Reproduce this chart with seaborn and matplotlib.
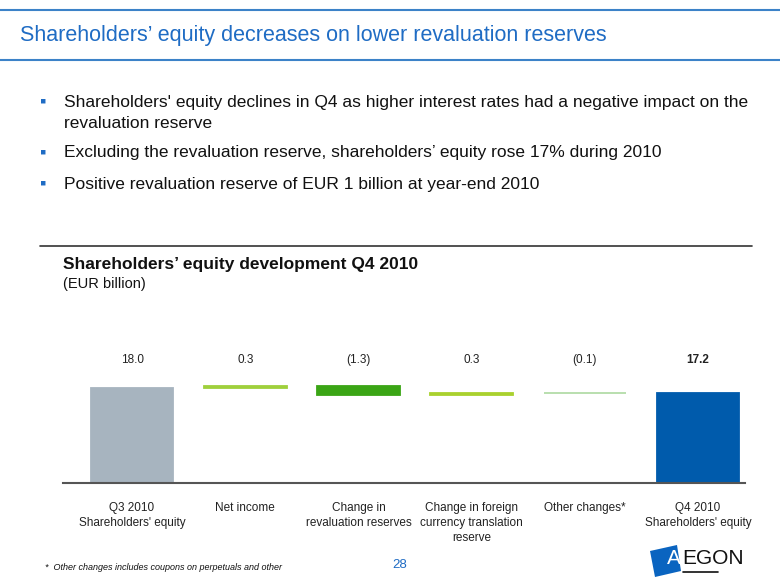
import numpy as np
import pandas as pd
import matplotlib
matplotlib.use('agg')
import matplotlib.pyplot as plt
import seaborn as sns
from matplotlib.patches import Polygon
from matplotlib.lines import Line2D

# data (EUR billion)
categories = ["Q3 2010\nShareholders' equity", "Net income", "Change in\nrevaluation reserves",
              "Change in foreign\ncurrency translation\nreserve", "Other changes*",
              "Q4 2010\nShareholders' equity"]
start_total = 18.0
changes = [0.3, -1.3, 0.3, -0.1]
end_total = 17.2
value_labels = ["18.0", "0.3", "(1.3)", "0.3", "(0.1)", "17.2"]
bar_colors = ["#A7B4BF", "#9FD03C", "#3AA515", "#A9D12E", "#B3DCA8", "#005BAC"]

# waterfall: floating bars built from the running total
running = start_total + np.concatenate([[0], np.cumsum(changes)])
lows = [0] + [min(running[i], running[i + 1]) for i in range(len(changes))] + [0]
highs = [start_total] + [max(running[i], running[i + 1]) for i in range(len(changes))] + [end_total]
df = pd.DataFrame({'Category': categories,
                   'Height': np.array(highs) - np.array(lows),
                   'Bottom': lows})

sns.set_theme(style="white")
plt.rcParams['font.family'] = ['Liberation Sans', 'DejaVu Sans']

fig = plt.figure(figsize=(7.8, 5.85), dpi=100)
W, H = 780, 585


def fx(px):
    return px / W


def fy(py):
    return 1 - py / H


ax = fig.add_axes([fx(63), fy(483), fx(745) - fx(63), fy(340) - fy(483)])
sns.barplot(data=df, x='Category', y='Height', bottom=df['Bottom'], ax=ax,
            width=0.73, color=bar_colors[0], saturation=1)
for patch, c in zip(ax.patches, bar_colors):
    patch.set_facecolor(c)
    patch.set_edgecolor(c)
    patch.set_linewidth(1.3)

ax.set_xlim(-0.61, 5.415)
ax.set_ylim(3.4, 25.4)
ax.set_yticks([])
ax.set_xticks([])
ax.set_xlabel("")
ax.set_ylabel("")
for s in ['top', 'right', 'left']:
    ax.spines[s].set_visible(False)
ax.spines['bottom'].set_color('#555555')
ax.spines['bottom'].set_linewidth(1.5)

# value labels above the bars
for i, lab in enumerate(value_labels):
    ax.text(i, 0.86, lab, transform=ax.get_xaxis_transform(), ha='center', va='center',
            fontsize=8.5, color='#222222', fontweight='bold' if i == len(value_labels) - 1 else 'normal')

# category labels below the axis
for i, cat in enumerate(categories):
    ax.text(i, -0.13, cat, transform=ax.get_xaxis_transform(), ha='center', va='top',
            fontsize=8.5, color='#222222', linespacing=1.35)

# slide header
blue = '#1F6CC4'
fig.add_artist(Line2D([0, 1], [fy(10), fy(10)], color='#3C82C8', lw=1.5))
fig.add_artist(Line2D([0, 1], [fy(60), fy(60)], color='#3C82C8', lw=1.5))
fig.text(fx(20), fy(35), "Shareholders’ equity decreases on lower revaluation reserves",
         fontsize=15.5, color=blue, va='center')

bullets = [(102, "Shareholders' equity declines in Q4 as higher interest rates had a negative impact on the"),
           (123, "revaluation reserve"),
           (153, "Excluding the revaluation reserve, shareholders’ equity rose 17% during 2010"),
           (184, "Positive revaluation reserve of EUR 1 billion at year-end 2010")]
for y, t in bullets:
    fig.text(fx(64), fy(y), t, fontsize=12.5, color='#111111', va='center')
for y in (102, 153, 184):
    fig.text(fx(43), fy(y), "\u25aa", fontsize=13, color=blue, va='center', ha='center')

fig.add_artist(Line2D([fx(40), fx(752)], [fy(246), fy(246)], color='#333333', lw=1.2))
fig.text(fx(63), fy(265), "Shareholders’ equity development Q4 2010", fontsize=12.5,
         fontweight='bold', color='#111111', va='center')
fig.text(fx(63), fy(284), "(EUR billion)", fontsize=10.5, color='#111111', va='center')

# footer
fig.text(fx(45), fy(567), "*  Other changes includes coupons on perpetuals and other",
         fontsize=6.5, style='italic', color='#111111', va='center')
fig.text(fx(400), fy(565), "28", fontsize=9.5, color=blue, va='center', ha='center')

# simple AEGON logo
logo = Polygon([[fx(650), fy(551)], [fx(677), fy(545)], [fx(681), fy(571)], [fx(655), fy(577)]],
               closed=True, facecolor='#0A64C0', edgecolor='none', transform=fig.transFigure)
fig.add_artist(logo)
fig.text(fx(674), fy(559), "A", fontsize=15, color='white', va='center', ha='center')
fig.text(fx(682), fy(558), "EGON", fontsize=15, color='#111111', va='center', ha='left')
fig.add_artist(Line2D([fx(683), fx(718)], [fy(572), fy(572)], color='#111111', lw=1.2))

fig.savefig('out.png', dpi=100)
